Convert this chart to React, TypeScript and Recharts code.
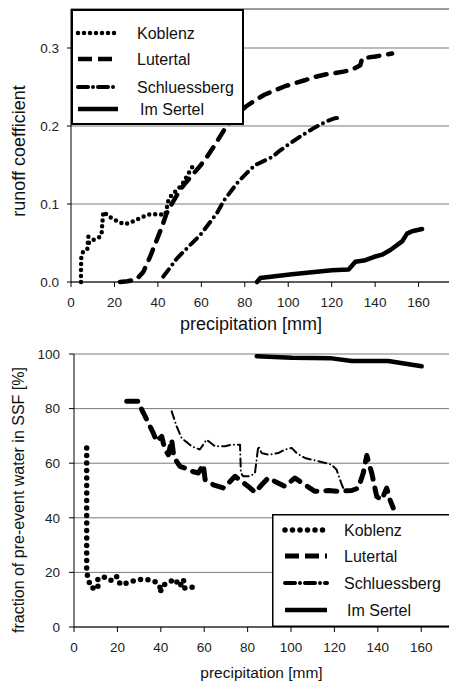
import React from "react";
import { LineChart, Line, XAxis, YAxis, CartesianGrid, ReferenceLine, Legend } from "recharts";

const FONT = '"Liberation Sans", Arial, sans-serif';

const seriesNames = ["Koblenz", "Lutertal", "Schluessberg", "Im Sertel"];
const xTicks = [0, 20, 40, 60, 80, 100, 120, 140, 160];
const runoffTicks = [0, 0.1, 0.2, 0.3];
const fractionTicks = [0, 20, 40, 60, 80, 100];

// runoff coefficient vs precipitation
const koblenzTopX = [4.6, 4.6, 4.7, 5.0, 5.7, 6.5, 7.5, 8.0, 8.3, 9, 11.8, 13.5, 14.1, 14.4, 14.9, 18.0, 21.8, 24.9, 28.0, 32.6, 36.4, 40.2, 43.3, 44.1, 44.5, 45.6, 48.7, 51.0, 54.0, 56.4];
const koblenzTopY = [0, 0.015, 0.03, 0.036, 0.039, 0.04, 0.042, 0.058, 0.05, 0.052, 0.056, 0.058, 0.062, 0.075, 0.09, 0.083, 0.077, 0.074, 0.077, 0.083, 0.087, 0.087, 0.086, 0.094, 0.102, 0.109, 0.118, 0.124, 0.139, 0.15];
const lutertalTopX = [22.6, 26, 30, 33.3, 36.5, 39.5, 42, 44, 47, 50.2, 53, 56.4, 59.5, 62.5, 66.5, 70.5, 73.5, 77.1, 80.5, 84.8, 89, 94, 98.5, 103.2, 108, 112.4, 117, 121.6, 126, 129.3, 133.2, 134, 137, 140.1, 144, 147.8];
const lutertalTopY = [0, 0.001, 0.003, 0.013, 0.033, 0.054, 0.072, 0.088, 0.103, 0.118, 0.128, 0.139, 0.149, 0.16, 0.177, 0.195, 0.206, 0.216, 0.225, 0.233, 0.24, 0.246, 0.251, 0.255, 0.259, 0.263, 0.266, 0.268, 0.27, 0.272, 0.278, 0.287, 0.288, 0.289, 0.291, 0.293];
const schluessbergTopX = [42.5, 45.5, 48.7, 54, 59.4, 63, 67.1, 70.5, 73.8, 77.1, 81, 84.8, 89.4, 92.5, 95.5, 101, 106.3, 111, 115.5, 118.5, 121.6, 124.7];
const schluessbergTopY = [0.007, 0.018, 0.03, 0.045, 0.06, 0.073, 0.088, 0.105, 0.117, 0.129, 0.14, 0.15, 0.156, 0.16, 0.167, 0.178, 0.188, 0.196, 0.203, 0.207, 0.21, 0.211];
const imSertelTopX = [85.6, 87.1, 101.7, 120.1, 127.8, 130.9, 135.5, 139.3, 143.2, 147, 152.4, 154.7, 157, 161.6];
const imSertelTopY = [0, 0.005, 0.01, 0.015, 0.016, 0.026, 0.028, 0.032, 0.035, 0.041, 0.052, 0.062, 0.065, 0.068];

// fraction of pre-event water vs precipitation
const koblenzBotX = [5.85, 5.85, 6.6, 8.1, 9.5, 11.2, 10.5, 13.5, 15.8, 18.1, 19.7, 20.5, 22, 25, 28.1, 31.9, 35, 37.3, 39.6, 39.6, 41, 43.5, 46.5, 48.8, 50.4, 51.1, 52.5, 54.7];
const koblenzBotY = [65.6, 20.3, 17.2, 14.2, 14.4, 14.2, 17.2, 18.5, 17.2, 17, 18.5, 16.5, 15.4, 16.4, 17, 17.6, 17.2, 16.6, 14.8, 12.6, 15.2, 16.3, 17.5, 14.8, 17.5, 14.2, 14.5, 14.6];
const lutertalBotX = [24.3, 29.6, 31, 33.5, 36.5, 38.1, 40.4, 41.9, 43.5, 45, 45.8, 47, 48.8, 51.1, 53.5, 57.3, 59.6, 60.4, 64.2, 69.1, 74.2, 77.3, 80.3, 83.4, 86.5, 89.5, 92.6, 97.2, 101.8, 106.4, 111, 117.2, 121.8, 128, 131, 133.3, 134.9, 137.2, 139.5, 141.8, 144.1, 145.6, 147.1];
const lutertalBotY = [82.7, 82.7, 80, 76, 71.1, 68, 69.8, 65, 63.1, 68.6, 63.7, 61, 58.8, 58.2, 57.2, 56.4, 59.5, 54, 52.1, 50.9, 55.2, 53.3, 51.5, 49.3, 52.1, 54.6, 53.3, 51.5, 54.6, 52.1, 49.7, 50, 49.7, 50, 50.9, 56.4, 62.8, 56.4, 47.8, 46.6, 50.9, 46.6, 43.6];
const schluessbergBotX = [45, 47.3, 49.6, 54.2, 58, 61.1, 65, 69.6, 72.7, 76.5, 76.9, 78, 81.1, 83.4, 84.9, 86.5, 89.5, 94.1, 97.2, 100.3, 102.6, 106.4, 112.6, 118.7, 121, 123.4, 124.1];
const schluessbergBotY = [79, 73.5, 69.2, 66.2, 65, 68.6, 66.2, 66.2, 66.8, 66.8, 56.4, 55.2, 55.2, 56.4, 66.2, 63.7, 63.1, 63.7, 65, 65.6, 63.7, 61.9, 60.7, 59.5, 57.6, 52.1, 50.9];
const imSertelBotX = [84.2, 100.3, 118.7, 128, 144.8, 160.2];
const imSertelBotY = [99.2, 98.6, 98.4, 97.4, 97.4, 95.5];

const zip = (xs: number[], ys: number[]) => xs.map((x, i) => ({ x, y: ys[i] }));

type LineStyle = { width: number; dash?: string };

const topStyles: LineStyle[] = [
  { width: 4.5, dash: "0 6" },
  { width: 4.5, dash: "11 9" },
  { width: 4, dash: "9 6 0 6" },
  { width: 4.5 },
];
const botStyles: LineStyle[] = [
  { width: 5.5, dash: "0 7.5" },
  { width: 5, dash: "11 9" },
  { width: 2, dash: "8 4 0 4" },
  { width: 4.5 },
];

const axisTick = { fill: "#222", fontSize: 13.5, fontFamily: FONT };

function LegendBox({ w, h, border, rows, sx, sw, tx, styles }: {
  w: number; h: number; border: number; rows: number[]; sx: number; sw: number; tx: number; styles: LineStyle[];
}) {
  return (
    <svg width={w} height={h} style={{ display: "block" }}>
      <rect x={border / 2} y={border / 2} width={w - border} height={h - border} fill="#fff" stroke="#000" strokeWidth={border} />
      {seriesNames.map((name, i) => (
        <g key={name}>
          <line
            x1={sx}
            x2={sx + sw}
            y1={rows[i]}
            y2={rows[i]}
            stroke="#000"
            strokeWidth={i === 2 ? 4 : styles[i].width}
            strokeDasharray={i === 1 ? "14 6" : i === 2 ? "10 5 0 5" : styles[i].dash}
            strokeLinecap={i === 0 || i === 2 ? "round" : "butt"}
          />
          <text x={tx + (i === 3 ? 3 : 0)} y={rows[i] + 5.5} fontSize={16} fontFamily={FONT} fill="#111">
            {name}
          </text>
        </g>
      ))}
    </svg>
  );
}

export default function App() {
  const topSets = [zip(koblenzTopX, koblenzTopY), zip(lutertalTopX, lutertalTopY), zip(schluessbergTopX, schluessbergTopY), zip(imSertelTopX, imSertelTopY)];
  const botSets = [zip(koblenzBotX, koblenzBotY), zip(lutertalBotX, lutertalBotY), zip(schluessbergBotX, schluessbergBotY), zip(imSertelBotX, imSertelBotY)];

  return (
    <div style={{ position: "absolute", left: 0, top: 0, width: 449, height: 686, overflow: "hidden", background: "#fff" }}>
      <div style={{ position: "absolute", left: 0, top: 0 }}>
        <LineChart width={449} height={340} margin={{ top: 9, right: 0, left: 0, bottom: 0 }}>
          <CartesianGrid vertical={false} stroke="#7a7a7a" />
          <ReferenceLine y={0.35} stroke="#7a7a7a" />
          <XAxis
            type="number"
            dataKey="x"
            domain={[0, 174]}
            ticks={xTicks}
            height={58}
            tickSize={5}
            tickMargin={10}
            stroke="#000"
            tick={axisTick}
            label={{
              content: ({ viewBox }: any) => (
                <text x={viewBox.x + viewBox.width / 2 - 9} y={330} textAnchor="middle" fontSize={18} fontFamily={FONT} fill="#111">
                  precipitation [mm]
                </text>
              ),
            }}
          />
          <YAxis
            type="number"
            domain={[0, 0.35]}
            ticks={runoffTicks}
            width={71}
            tickSize={4}
            tickMargin={8}
            stroke="#000"
            tick={axisTick}
            tickFormatter={(v: number) => v.toFixed(1)}
            label={{
              content: () => (
                <text x={25} y={151} transform="rotate(-90 25 151)" textAnchor="middle" fontSize={18} fontFamily={FONT} fill="#111">
                  runoff coefficient
                </text>
              ),
            }}
          />
          {topSets.map((d, i) => (
            <Line
              key={seriesNames[i]}
              data={d}
              dataKey="y"
              name={seriesNames[i]}
              type="linear"
              stroke="#000"
              strokeWidth={topStyles[i].width}
              strokeDasharray={topStyles[i].dash}
              strokeLinecap="round"
              strokeLinejoin="round"
              dot={false}
              isAnimationActive={false}
            />
          ))}
          <Legend
            verticalAlign="middle"
            wrapperStyle={{ left: 71, top: 9, width: 173, height: 116 }}
            content={() => (
              <LegendBox w={173} h={116} border={2} rows={[24, 50, 78, 100]} sx={7} sw={40} tx={66} styles={topStyles} />
            )}
          />
        </LineChart>
      </div>
      <div style={{ position: "absolute", left: 0, top: 340 }}>
        <LineChart width={449} height={346} margin={{ top: 14, right: 0, left: 0, bottom: 0 }}>
          <CartesianGrid vertical={false} stroke="#7a7a7a" />
          <XAxis
            type="number"
            dataKey="x"
            domain={[0, 172.8]}
            ticks={xTicks}
            height={59}
            tickSize={5}
            tickMargin={10}
            stroke="#000"
            tick={axisTick}
            label={{
              content: ({ viewBox }: any) => (
                <text x={viewBox.x + viewBox.width / 2} y={338} textAnchor="middle" fontSize={15.5} fontFamily={FONT} fill="#111">
                  precipitation [mm]
                </text>
              ),
            }}
          />
          <YAxis
            type="number"
            domain={[0, 100]}
            ticks={fractionTicks}
            width={74}
            tickSize={5}
            tickMargin={9}
            stroke="#000"
            tick={axisTick}
            label={{
              content: () => (
                <text x={24} y={160} transform="rotate(-90 24 160)" textAnchor="middle" fontSize={16} fontFamily={FONT} fill="#111">
                  fraction of pre-event water in SSF [%]
                </text>
              ),
            }}
          />
          {botSets.map((d, i) => (
            <Line
              key={seriesNames[i]}
              data={d}
              dataKey="y"
              name={seriesNames[i]}
              type="linear"
              stroke="#000"
              strokeWidth={botStyles[i].width}
              strokeDasharray={botStyles[i].dash}
              strokeLinecap="round"
              strokeLinejoin="round"
              dot={false}
              isAnimationActive={false}
            />
          ))}
          <Legend
            verticalAlign="middle"
            wrapperStyle={{ left: 272, top: 174, width: 182, height: 113 }}
            content={() => (
              <LegendBox w={182} h={113} border={1.5} rows={[16, 42, 69, 96]} sx={13} sw={42} tx={72} styles={botStyles} />
            )}
          />
        </LineChart>
      </div>
    </div>
  );
}
